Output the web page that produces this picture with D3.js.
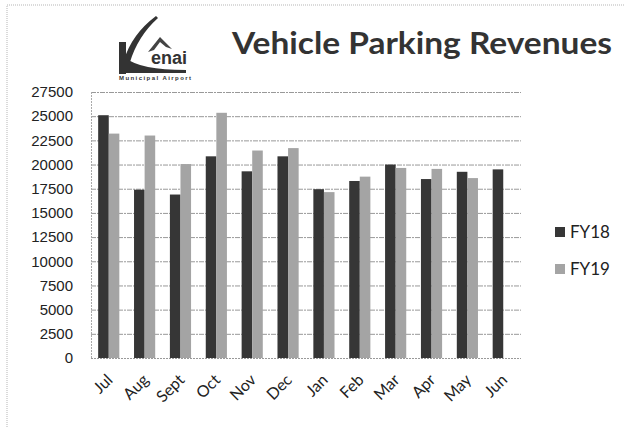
<!DOCTYPE html>
<html>
<head>
<meta charset="utf-8">
<script src="https://cdn.jsdelivr.net/npm/d3@7"></script>
<style>
  body { margin: 0; background: #fff; }
  svg { display: block; }
</style>
</head>
<body>
<script>
"use strict";
(function(){
    // data
    const months = ["Jul", "Aug", "Sept", "Oct", "Nov", "Dec", "Jan", "Feb", "Mar", "Apr", "May", "Jun"]
    const seriesNames = ["FY18", "FY19"]
    const fy18 = [25100, 17400, 16900, 20850, 19300, 20850, 17450, 18300, 20000, 18500, 19250, 19500]
    const fy19 = [23200, 23000, 20050, 25350, 21450, 21700, 17150, 18750, 19650, 19550, 18600, null]
    const yTicks = [0, 2500, 5000, 7500, 10000, 12500, 15000, 17500, 20000, 22500, 25000, 27500]

    const colors = { "FY18": "#363636", "FY19": "#a4a4a4" }

    const measurements = {
        width: 624,
        height: 428,
        left: 91,
        right: 521,
        top: 92,
        bottom: 358
    }

    let svgContainer = d3.select('body').append("svg")
        .attr('width', measurements.width)
        .attr('height', measurements.height)

    // page border (dotted, cut off at right/bottom)
    svgContainer.append("rect")
        .attr("x", 7).attr("y", 5)
        .attr("width", 640).attr("height", 440)
        .attr("fill", "none")
        .attr("stroke", "#b5b5b5")
        .attr("stroke-dasharray", "1,1")

    let scaleX = d3.scaleBand()
        .domain(months)
        .range([measurements.left, measurements.right])
        .paddingInner(0.41)
        .paddingOuter(0.2)

    let scaleSeries = d3.scaleBand()
        .domain(seriesNames)
        .range([0, scaleX.bandwidth()])

    let scaleY = d3.scaleLinear()
        .domain([0, 27500])
        .range([measurements.bottom, measurements.top])

    // gridlines
    svgContainer.append("g")
        .selectAll("line")
        .data(yTicks)
        .enter()
        .append("line")
        .attr("x1", measurements.left)
        .attr("x2", measurements.right)
        .attr("y1", d => scaleY(d) + 0.5)
        .attr("y2", d => scaleY(d) + 0.5)
        .attr("stroke", "#999")
        .attr("stroke-width", 1)
        .attr("stroke-dasharray", d => d === 0 ? "2,1" : "5,1,2,1")

    svgContainer.append("line")
        .attr("x1", measurements.left + 0.5).attr("x2", measurements.left + 0.5)
        .attr("y1", measurements.top).attr("y2", measurements.bottom)
        .attr("stroke", "#aaa")
        .attr("stroke-dasharray", "2,1")

    // y axis labels
    let yAxis = d3.axisLeft(scaleY)
        .tickValues(yTicks)
        .tickSize(0)
        .tickPadding(0)
        .tickFormat(d => String(d))
    let yg = svgContainer.append("g")
        .attr("transform", "translate(73,0)")
        .call(yAxis)
    yg.select(".domain").remove()
    yg.selectAll("text")
        .attr("font-family", "Liberation Sans, Arial, sans-serif")
        .attr("font-size", 15)
        .attr("fill", "#222")

    // bars
    const rows = months.map((m, i) => ({ month: m, FY18: fy18[i], FY19: fy19[i] }))
    let groups = svgContainer.append("g")
        .selectAll("g")
        .data(rows)
        .enter()
        .append("g")
        .attr("transform", d => "translate(" + scaleX(d.month) + ",0)")

    groups.selectAll("rect")
        .data(d => seriesNames.filter(s => d[s] != null).map(s => ({ key: s, value: d[s] })))
        .enter()
        .append("rect")
        .attr("x", d => scaleSeries(d.key))
        .attr("y", d => scaleY(d.value))
        .attr("width", scaleSeries.bandwidth())
        .attr("height", d => measurements.bottom - scaleY(d.value))
        .attr("fill", d => colors[d.key])

    // x axis labels, rotated
    let xAxis = d3.axisBottom(scaleX).tickSize(0).tickPadding(0)
    let xg = svgContainer.append("g")
        .attr("transform", "translate(0," + (measurements.bottom + 12) + ")")
        .call(xAxis)
    xg.select(".domain").remove()
    xg.selectAll("text")
        .attr("font-family", "Lato, Open Sans, sans-serif")
        .attr("font-size", 16)
        .attr("fill", "#222")
        .attr("text-anchor", "end")
        .attr("dy", "0.35em")
        .attr("transform", "translate(1,7) rotate(-45)")

    // legend
    let legend = svgContainer.append("g")
    seriesNames.forEach((s, i) => {
        let y = 227 + i * 37
        legend.append("rect")
            .attr("x", 555).attr("y", y)
            .attr("width", 10).attr("height", 10)
            .attr("fill", colors[s])
        legend.append("text")
            .attr("x", 570).attr("y", y + 11)
            .attr("font-family", "Lato, Open Sans, sans-serif")
            .attr("font-size", 17)
            .attr("fill", "#222")
            .text(s)
    })

    // title
    svgContainer.append("text")
        .attr("x", 232).attr("y", 54)
        .attr("font-family", "Lato, Open Sans, sans-serif")
        .attr("font-weight", "bold")
        .attr("font-size", 31)
        .attr("fill", "#333")
        .attr("textLength", 380)
        .attr("lengthAdjust", "spacingAndGlyphs")
        .text("Vehicle Parking Revenues")

    // logo (rough)
    let logo = svgContainer.append("g")
    logo.append("path")
        .attr("d", "M156,16 Q132,34 124,60 L130,62 Q138,36 158,18 Z")
        .attr("fill", "#333")
    logo.append("path")
        .attr("d", "M148,52 L160,37 L172,49 L166,47 L160,42 L154,50 Z")
        .attr("fill", "#444")
    logo.append("rect")
        .attr("x", 119).attr("y", 42).attr("width", 7).attr("height", 32)
        .attr("fill", "#333")
    logo.append("path")
        .attr("d", "M126,58 Q140,70 186,70 L186,73 L126,73 Z")
        .attr("fill", "#333")
    logo.append("text")
        .attr("x", 151).attr("y", 64)
        .attr("font-family", "Liberation Sans, Arial, sans-serif")
        .attr("font-weight", "bold")
        .attr("font-size", 18)
        .attr("fill", "#333")
        .text("enai")
    logo.append("text")
        .attr("x", 119).attr("y", 80)
        .attr("font-family", "Liberation Sans, Arial, sans-serif")
        .attr("font-weight", "bold")
        .attr("font-size", 6)
        .attr("fill", "#333")
        .attr("textLength", 72)
        .text("Municipal Airport")
})()
</script>
</body>
</html>
